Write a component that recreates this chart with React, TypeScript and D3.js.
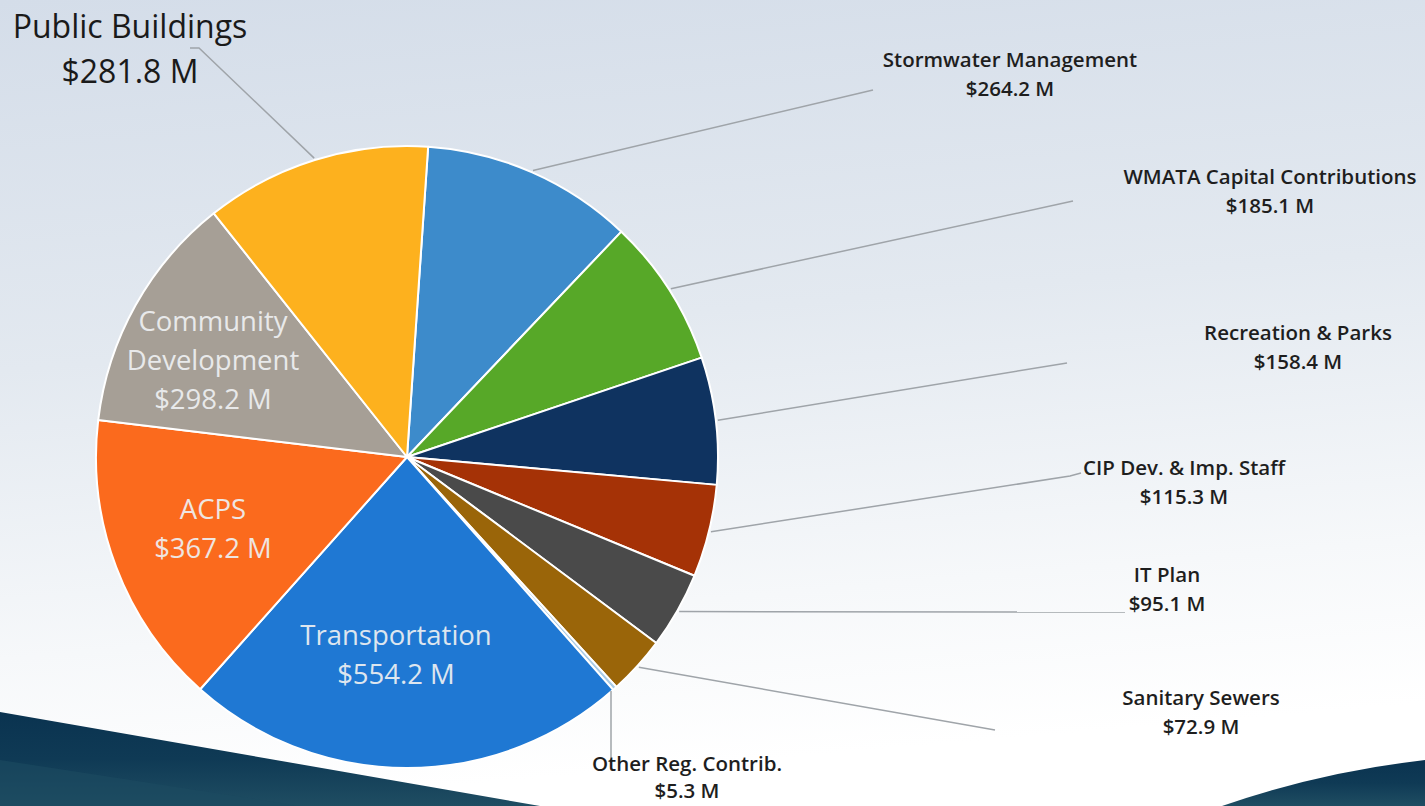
import React, { useMemo } from 'react';
import * as d3 from 'd3';

// slice order, clockwise from just right of 12 o'clock
const categories = [
  'Stormwater Management',
  'WMATA Capital Contributions',
  'Recreation & Parks',
  'CIP Dev. & Imp. Staff',
  'IT Plan',
  'Sanitary Sewers',
  'Other Reg. Contrib.',
  'Transportation',
  'ACPS',
  'Community Development',
  'Public Buildings',
];
const values = [264.2, 185.1, 158.4, 115.3, 95.1, 72.9, 5.3, 554.2, 367.2, 298.2, 281.8];
const valueLabels = values.map((v) => `$${v.toFixed(1)} M`);

const colors = [
  '#3d8bcb', '#57a828', '#0f3360', '#a53206', '#4a4a4a', '#9a6509',
  '#a9cbe6', '#1f78d3', '#fb6a1d', '#a69f96', '#fdb11e',
];

const W = 1425;
const H = 806;
const cx = 407;
const cy = 457;
const R = 311;
const startOffset = (3.9 * Math.PI) / 180;

// outside label layout: line end and text block anchor
const outside: Record<string, { end: [number, number][]; tx: number; ty: number }> = {
  'Stormwater Management': { end: [[873, 90]], tx: 1010, ty: 67 },
  'WMATA Capital Contributions': { end: [[1073, 201]], tx: 1270, ty: 184 },
  'Recreation & Parks': { end: [[1067, 363]], tx: 1298, ty: 340 },
  'CIP Dev. & Imp. Staff': { end: [[1070, 476], [1081, 473]], tx: 1184, ty: 475 },
  'IT Plan': { end: [[1125, 612]], tx: 1167, ty: 582 },
  'Sanitary Sewers': { end: [[995, 730]], tx: 1201, ty: 705 },
  'Other Reg. Contrib.': { end: [[611, 763]], tx: 687, ty: 771 },
};

// inside label layout
const inside: Record<string, { lines: string[]; x: number; y: number }> = {
  'Community Development': { lines: ['Community', 'Development'], x: 213, y: 331 },
  ACPS: { lines: ['ACPS'], x: 213, y: 519 },
  Transportation: { lines: ['Transportation'], x: 396, y: 645 },
};

const App: React.FC = () => {
  const arcs = useMemo(() => {
    const pie = d3
      .pie<number>()
      .sort(null)
      .value((d) => d)
      .startAngle(startOffset)
      .endAngle(startOffset + Math.PI * 2);
    return pie(values);
  }, []);

  const arc = d3.arc<d3.PieArcDatum<number>>().innerRadius(0).outerRadius(R);
  const lineGen = d3.line();

  const edgePoint = (a: d3.PieArcDatum<number>, r: number): [number, number] => {
    const mid = (a.startAngle + a.endAngle) / 2;
    return [cx + r * Math.sin(mid), cy - r * Math.cos(mid)];
  };

  const font = "'Open Sans', 'Noto Sans', sans-serif";

  return (
    <svg
      width={W}
      height={H}
      viewBox={`0 0 ${W} ${H}`}
      style={{ position: 'absolute', left: 0, top: 0, fontFamily: font }}
    >
      <defs>
        <linearGradient id="bg" x1="0" y1="0" x2="0.15" y2="1">
          <stop offset="0" stopColor="#d4dde9" />
          <stop offset="0.45" stopColor="#e3e9f0" />
          <stop offset="0.8" stopColor="#f6f8fa" />
          <stop offset="1" stopColor="#ffffff" />
        </linearGradient>
        <linearGradient id="band" x1="0" y1="0" x2="0" y2="1">
          <stop offset="0" stopColor="#0a3350" />
          <stop offset="0.5" stopColor="#0f3a55" />
          <stop offset="1" stopColor="#1f4d62" />
        </linearGradient>
      </defs>

      <rect width={W} height={H} fill="url(#bg)" />

      {/* dark bands at the bottom */}
      <path d="M0,712 L540,806 L0,806 Z" fill="url(#band)" />
      <path d="M0,760 L300,806 L0,806 Z" fill="#1d4b60" opacity={0.6} />
      <path d="M1222,806 Q1320,772 1425,760 L1425,806 Z" fill="url(#band)" />

      {/* slices */}
      <g transform={`translate(${cx},${cy})`}>
        {arcs.map((a, i) => (
          <path key={categories[i]} d={arc(a) || ''} fill={colors[i]} stroke="#ffffff" strokeWidth={2} strokeLinejoin="round" />
        ))}
      </g>

      {/* leader lines */}
      <g fill="none" stroke="#9fa4a9" strokeWidth={1.5}>
        {arcs.map((a, i) => {
          const cat = categories[i];
          const o = outside[cat];
          if (!o) return null;
          let start = edgePoint(a, R + 2);
          if (cat === 'Other Reg. Contrib.') start = [611, 691];
          const pts: [number, number][] = [start, ...o.end];
          return <path key={cat} d={lineGen(pts) || ''} />;
        })}
        <path d={lineGen([edgePoint(arcs[10], R + 2), [199, 48], [190, 48]]) || ''} />
      </g>

      {/* outside labels */}
      {arcs.map((a, i) => {
        const cat = categories[i];
        const o = outside[cat];
        if (!o) return null;
        const gap = cat === 'Other Reg. Contrib.' ? 27 : 29;
        return (
          <text key={cat} x={o.tx} y={o.ty} textAnchor="middle" fontSize={20.5} fontWeight={600} fill="#1e1e1e">
            <tspan x={o.tx}>{cat}</tspan>
            <tspan x={o.tx} dy={gap}>{valueLabels[i]}</tspan>
          </text>
        );
      })}

      {/* public buildings, larger */}
      <text x={130} y={38} textAnchor="middle" fontSize={32} fill="#1a1a1a">
        <tspan x={130}>{categories[10]}</tspan>
        <tspan x={130} dy={45}>{valueLabels[10]}</tspan>
      </text>

      {/* inside labels */}
      {categories.map((cat, i) => {
        const lab = inside[cat];
        if (!lab) return null;
        return (
          <text key={cat} x={lab.x} y={lab.y} textAnchor="middle" fontSize={27.5} fill="#eef0f2" opacity={0.92}>
            {lab.lines.map((l, j) => (
              <tspan key={l} x={lab.x} dy={j === 0 ? 0 : 39}>{l}</tspan>
            ))}
            <tspan x={lab.x} dy={39}>{valueLabels[i]}</tspan>
          </text>
        );
      })}
    </svg>
  );
};

export default App;
